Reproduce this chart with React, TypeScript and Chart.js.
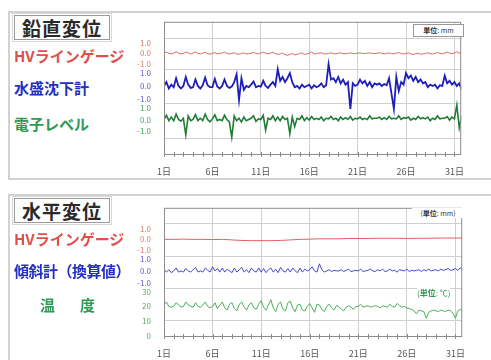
import React, { useEffect, useRef } from "react";
import { Chart, registerables } from "chart.js";
Chart.register(...registerables);
Chart.defaults.font.family = "'Noto Sans CJK JP', 'Noto Sans', sans-serif";

// ---------- categories / ticks ----------
const DAY_TICKS = [1, 6, 11, 16, 21, 26, 31];
const DAY_LABELS = ["1日", "6日", "11日", "16日", "21日", "26日", "31日"];
const DISP_TICKS = [1, 0, -1];
const DISP_LABELS = ["1.0", "0.0", "-1.0"];
const TEMP_TICKS = [30, 20, 10, 0];
const TEMP_LABELS = ["30", "20", "10", "0"];

// ---------- 鉛直変位 (4 samples per day) ----------
const topHV = [
  0.05, 0.12, 0.0, -0.05, 0.02, 0.15, 0.03, -0.04, 0.0, 0.12, 0.05, -0.06,
  0.03, 0.14, 0.0, -0.05, 0.02, 0.1, -0.02, -0.08, 0.0, 0.08, -0.05, -0.02,
  0.04, 0.1, 0.0, -0.06, 0.0, 0.06, -0.04, -0.08, -0.02, 0.05, -0.06, -0.03,
  0.02, 0.08, 0.0, -0.05, 0.05, 0.12, 0.02, -0.04, 0.03, 0.1, -0.02, -0.1,
  -0.05, 0.02, -0.12, -0.18, -0.1, -0.02, -0.15, -0.08, -0.02, 0.05, -0.1, -0.05,
  0.0, 0.15, -0.05, -0.02, 0.02, 0.06, -0.04, -0.06, 0.0, 0.05, -0.03, -0.05,
  0.02, 0.04, -0.02, -0.04, 0.0, 0.05, -0.02, -0.03, 0.02, 0.04, 0.0, -0.02,
  0.01, 0.05, -0.01, -0.03, 0.02, 0.06, 0.0, -0.04, 0.0, 0.04, -0.02, -0.05,
  0.02, 0.08, 0.0, -0.06, 0.0, 0.05, -0.05, -0.1, -0.04, 0.02, -0.08, -0.05,
  0.0, 0.06, -0.02, -0.06, 0.02, 0.08, 0.0, -0.04, 0.03, 0.12, 0.02, -0.03,
  0.05, 0.15, 0.02, 0.08,
];
const topWater = [
  0.0, 0.3, -0.2, 0.1, -0.1, 0.6, 0.0, -0.2, 0.0, 0.7, 0.1, -0.15,
  -0.1, 0.5, 0.0, -0.2, 0.05, 0.65, 0.05, -0.1, -0.1, 0.55, -0.05, -0.2,
  0.0, 0.5, 0.0, -0.15, -0.05, 0.3, 0.9, -1.1, 0.6, -0.3, 0.0, -0.1,
  0.1, 0.35, -0.1, 0.0, -0.05, 0.4, 0.0, -0.15, 0.1, 0.3, 0.0, 1.3,
  0.4, 0.7, 0.3, 0.6, 1.0, 0.3, -0.1, 0.0, -0.2, 0.1, -0.1, 0.0,
  0.1, -0.2, 0.05, -0.1, 0.0, 0.2, -0.1, 0.05, 1.7, 0.5, 0.6, 0.3,
  0.7, 0.2, 0.5, 0.1, 0.3, -1.8, 0.2, 0.0, 0.1, 0.5, 0.2, 0.4,
  0.0, 0.3, -0.1, 0.2, 0.1, 0.2, 0.0, 0.15, 0.05, 0.6, -0.6, -1.8,
  0.7, -0.4, 0.3, 0.1, 1.0, 0.6, 0.8, 0.4, 0.7, 0.3, 0.5, 0.2,
  0.3, -0.1, 0.1, 0.0, 0.1, -0.2, 0.05, 0.0, 0.8, 0.2, 0.4, 0.1,
  0.3, 0.0, 0.2, -0.3,
];
const topLevel = [
  0.0, 0.35, -0.1, 0.2, -0.1, 0.45, 0.0, -0.15, 0.1, -1.3, 0.3, -0.1,
  0.0, 0.4, -0.1, 0.1, -0.1, 0.45, 0.0, -0.2, 0.05, 0.4, -0.1, 0.0,
  -0.1, 0.35, 0.0, -0.2, -1.5, 0.3, -0.1, 0.1, -0.2, 0.2, -0.1, 0.0,
  0.1, 0.3, -0.15, 0.05, 0.0, 0.35, -0.9, 0.1, 0.0, 0.3, -0.1, 0.2,
  -0.1, 0.25, 0.0, 0.1, -1.2, 0.2, -0.6, 0.1, 0.0, 0.3, -0.1, 0.15,
  -0.05, 0.25, 0.0, 0.1, 0.0, 0.2, -0.1, 0.1, 0.05, 0.25, 0.0, 0.1,
  -0.1, 0.2, 0.0, 0.15, 0.0, 0.25, -0.05, 0.1, 0.05, 0.2, 0.0, 0.1,
  0.0, 0.3, 0.05, 0.1, 0.1, 0.2, 0.0, 0.15, 0.0, 0.25, 0.05, 0.1,
  0.05, 0.3, 0.0, 0.15, 0.1, 0.2, -0.05, 0.1, 0.0, 0.25, 0.05, 0.15,
  0.05, 0.2, -0.1, 0.1, 0.0, 0.3, 0.05, 0.1, 0.1, 0.25, -0.05, 0.2,
  0.05, 1.2, -0.7, 0.3,
];

// ---------- 水平変位 ----------
const botHV = [
  0.0, 0.0, 0.02, 0.0, 0.0, -0.02, 0.0, -0.05, -0.1, -0.12, -0.12, -0.12,
  -0.1, -0.05, 0.0, 0.02, 0.05, 0.05, 0.05, 0.08, 0.08, 0.08, 0.1, 0.1,
  0.1, 0.08, 0.1, 0.1, 0.12, 0.12, 0.12, 0.12,
]; // 1 sample per day
const botTilt = [
  0.15, -0.1, 0.1, -0.15, 0.0, 0.25, -0.1, 0.0, -0.1, 0.2, 0.0, -0.1,
  0.1, 0.3, -0.1, 0.0, -0.1, 0.25, 0.05, -0.1, 0.35, 0.0, 0.2, -0.1,
  0.25, -0.1, 0.15, 0.0, -0.15, 0.25, -0.1, 0.1, 0.3, -0.1, 0.1, -0.15,
  0.25, 0.0, -0.1, 0.25, -0.1, 0.2, -0.15, 0.1, 0.25, -0.1, 0.15, -0.15,
  0.3, 0.0, -0.1, 0.2, -0.1, 0.25, 0.0, -0.15, 0.25, -0.1, 0.15, 0.0,
  0.1, 0.35, 0.0, -0.1, 0.6, 0.1, -0.1, 0.0, 0.1, -0.05, 0.05, 0.0,
  0.0, 0.1, -0.05, 0.05, 0.15, -0.05, 0.0, 0.05, 0.0, 0.15, -0.05, 0.0,
  0.05, 0.15, 0.0, -0.05, 0.1, 0.0, 0.15, -0.05, 0.0, 0.15, 0.0, 0.05,
  -0.1, 0.1, 0.05, 0.0, 0.15, -0.05, 0.05, 0.0, 0.05, 0.1, -0.05, 0.1,
  0.0, 0.15, 0.0, 0.05, 0.1, 0.0, 0.15, 0.05, 0.1, 0.2, 0.05, 0.1,
  0.2, 0.05, 0.25, 0.1,
];
const botTemp = [
  21, 23, 20, 19.5, 20, 22.5, 21, 19.5, 20, 23, 21, 20, 19.5, 22.5, 20, 19.5,
  21, 23, 20, 19, 20, 22.5, 18.5, 21, 23, 19, 17.5, 21.5, 22.5, 18.5, 17, 21.5,
  23, 19.5, 17.5, 21, 22.5, 19, 18, 21.5, 24, 19.5, 17.5, 21, 24.5, 19, 16.5, 21.5,
  23, 18, 17, 22.5, 23.5, 19, 16.5, 21, 21.5, 17.5, 17, 20, 22, 19, 16, 21.5,
  21, 18, 16.5, 20, 21.5, 19, 17.5, 20.5, 20, 18, 17, 19.5, 20.5, 19.5, 18, 20,
  20, 21.5, 19.5, 20, 20.5, 19.5, 20, 20.5, 20, 19, 20.5, 20, 19.5, 21.5, 20, 19.5,
  22, 20.5, 19.5, 20, 19, 18.5, 18, 17, 15, 17.5, 17, 16.5, 12, 16, 17, 17.5,
  17, 16.5, 17.5, 17, 16.5, 17.5, 17, 15.5, 12, 17, 18, 17.5,
];

type Band = {
  values: number[]; perDay: number; off: number; k: number;
  color: string; width: number; tickVals: number[]; tickLabels: string[]; tickColor: string;
};

const framePlugin = {
  id: "frame",
  afterDraw(chart: any) {
    const { ctx, chartArea: a, scales } = chart;
    ctx.save();
    ctx.strokeStyle = "#8c8c8c";
    ctx.lineWidth = 1;
    ctx.strokeRect(a.left + 0.5, a.top + 0.5, a.width - 1, a.height - 1);
    const xs = scales.x;
    for (let d = 1; d <= 31; d++) {
      const px = Math.round(xs.getPixelForValue(d)) + 0.5;
      ctx.beginPath();
      ctx.moveTo(px, a.bottom - 3);
      ctx.lineTo(px, a.bottom + 2);
      ctx.stroke();
    }
    ctx.restore();
  },
};

function makeChart(canvas: HTMLCanvasElement, bands: Band[], gridVals: number[], yMax: number) {
  const tickInfo = bands
    .flatMap((b) => b.tickVals.map((v, i) => ({ value: b.off + v * b.k, label: b.tickLabels[i], color: b.tickColor })))
    .sort((p, q) => p.value - q.value);
  return new Chart(canvas, {
    type: "line",
    data: {
      datasets: bands.map((b) => ({
        data: b.values.map((v, i) => ({ x: 1 + i / b.perDay, y: b.off + v * b.k })),
        borderColor: b.color,
        borderWidth: b.width,
        pointRadius: 0,
        fill: false,
        tension: 0,
      })),
    },
    options: {
      animation: false,
      responsive: false,
      devicePixelRatio: 1,
      layout: { padding: { top: 8, right: 4, left: 0, bottom: 0 } },
      plugins: { legend: { display: false }, tooltip: { enabled: false } },
      scales: {
        x: {
          type: "linear",
          min: 1,
          max: 31.7,
          afterBuildTicks: (s: any) => { s.ticks = DAY_TICKS.map((v) => ({ value: v })); },
          ticks: {
            callback: (v: any) => DAY_LABELS[DAY_TICKS.indexOf(Number(v))] ?? "",
            color: "#555",
            font: { size: 9 },
            padding: 11,
            autoSkip: false,
            maxRotation: 0,
          },
          grid: { color: "#cfcfcf", drawTicks: false },
          border: { display: false },
          afterFit: (s: any) => { s.height = 25; },
        },
        y: {
          type: "linear",
          min: 0,
          max: yMax,
          afterBuildTicks: (s: any) => { s.ticks = tickInfo.map((t) => ({ value: t.value })); },
          ticks: {
            autoSkip: false,
            callback: (_v: any, i: number) => tickInfo[i]?.label ?? "",
            color: (ctx: any) => tickInfo[ctx.index]?.color ?? "#666",
            font: { size: 8 },
            padding: 5,
          },
          grid: { display: false },
          border: { display: false },
          afterFit: (s: any) => { s.width = 34; },
        },
        yg: {
          type: "linear",
          position: "left",
          min: 0,
          max: yMax,
          afterBuildTicks: (s: any) => { s.ticks = gridVals.map((v) => ({ value: v })); },
          ticks: { display: false },
          grid: { color: "#cfcfcf", drawTicks: false },
          border: { display: false },
          afterFit: (s: any) => { s.width = 0; },
        },
      },
    } as any,
    plugins: [framePlugin],
  });
}

const RED = "#e0504a";
const BLUE = "#2430c0";
const GREEN = "#2e9a55";

const topBands: Band[] = [
  { values: topHV, perDay: 4, off: 103, k: 11, color: "#e06868", width: 1, tickVals: DISP_TICKS, tickLabels: DISP_LABELS, tickColor: "#e07a6a" },
  { values: topWater, perDay: 4, off: 70, k: 13, color: "#1e1eb8", width: 1.8, tickVals: DISP_TICKS, tickLabels: DISP_LABELS, tickColor: "#5a5ad0" },
  { values: topLevel, perDay: 4, off: 36, k: 12, color: "#1f7d36", width: 1.6, tickVals: DISP_TICKS, tickLabels: DISP_LABELS, tickColor: "#4aa060" },
];
const botBands: Band[] = [
  { values: botHV, perDay: 1, off: 99, k: 11, color: "#e06060", width: 1, tickVals: DISP_TICKS, tickLabels: DISP_LABELS, tickColor: "#e07a6a" },
  { values: botTilt, perDay: 4, off: 67, k: 12, color: "#4848d0", width: 1, tickVals: DISP_TICKS, tickLabels: DISP_LABELS, tickColor: "#5a5ad0" },
  { values: botTemp, perDay: 4, off: 1, k: 1.5, color: "#4cae5c", width: 1, tickVals: TEMP_TICKS, tickLabels: TEMP_LABELS, tickColor: "#5aa860" },
];

function Panel({ bands, grid, yMax, left, top, width, height }: any) {
  const ref = useRef<HTMLCanvasElement>(null);
  useEffect(() => {
    const c = makeChart(ref.current!, bands, grid, yMax);
    return () => c.destroy();
  }, []);
  return (
    <canvas ref={ref} width={width} height={height}
      style={{ position: "absolute", left, top, width, height }} />
  );
}

const abs = (l: number, t: number, extra: any = {}) => ({ position: "absolute" as const, left: l, top: t, ...extra });

export default function App() {
  const lbl = { fontSize: 15, fontWeight: 700, whiteSpace: "nowrap", lineHeight: "16px" };
  const title = { width: 94, height: 23, border: "1px solid #9a9a9a", outline: "1px solid #d8d8d8", outlineOffset: 1, fontSize: 19, fontWeight: 700, color: "#2a2a2a", textAlign: "center", lineHeight: "23px", letterSpacing: 1, background: "#fff" };
  return (
    <div style={{ position: "fixed", left: 0, top: 0, width: 491, height: 360, overflow: "hidden", background: "#fff", fontFamily: "'Noto Sans CJK JP', sans-serif" }}>
      <div style={abs(8, 11, { width: 520, height: 165, border: "2px solid #d2d2d2" })} />
      <div style={abs(8, 194, { width: 520, height: 200, border: "2px solid #d2d2d2" })} />

      <Panel bands={topBands} grid={[118, 87, 52, 17]} yMax={135} left={130} top={12} width={345} height={168} />
      <Panel bands={botBands} grid={[115, 82, 49, 17]} yMax={131} left={130} top={198} width={346} height={164} />

      <div style={abs(14, 15, title)}>鉛直変位</div>
      <div style={abs(14, 48, { ...lbl, color: RED })}>HVラインゲージ</div>
      <div style={abs(14, 80, { ...lbl, color: BLUE })}>水盛沈下計</div>
      <div style={abs(14, 116, { ...lbl, color: GREEN })}>電子レベル</div>
      <div style={abs(413, 24, { width: 49, height: 11, border: "1px solid #999", fontSize: 7, lineHeight: "11px", textAlign: "center", color: "#333", background: "#fff", whiteSpace: "nowrap" })}>
        <b>単位</b>: mm
      </div>

      <div style={abs(14, 198, title)}>水平変位</div>
      <div style={abs(14, 231, { ...lbl, color: RED })}>HVラインゲージ</div>
      <div style={abs(14, 263, { ...lbl, color: BLUE, letterSpacing: -0.5 })}>傾斜計（換算値）</div>
      <div style={abs(40, 297, { ...lbl, color: GREEN, letterSpacing: 5 })}>温　度</div>
      <div style={abs(412, 208, { width: 52, height: 10, fontSize: 7, lineHeight: "10px", textAlign: "center", color: "#333", background: "#fff", whiteSpace: "nowrap" })}>
        (<b>単位</b>: mm)
      </div>
      <div style={abs(417, 288, { fontSize: 8, lineHeight: "10px", color: GREEN, background: "#fff", whiteSpace: "nowrap" })}>
        (<b>単位</b>: ℃)
      </div>
    </div>
  );
}
